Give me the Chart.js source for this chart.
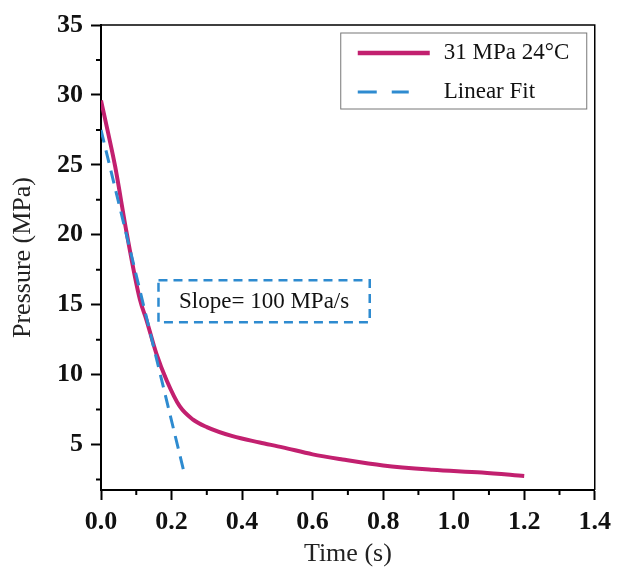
<!DOCTYPE html>
<html>
<head>
  <title>Pressure decay</title>
  <script src="https://cdn.jsdelivr.net/npm/chart.js"></script>
  <style>
    body { margin: 0; background: #fff; }
  </style>
</head>
<body>
  <canvas id="chart" width="618" height="570"></canvas>

  <script>
    const timeVals = [0, 0.02, 0.04, 0.073, 0.11, 0.129, 0.157, 0.186, 0.223, 0.26, 0.30, 0.373, 0.45, 0.515, 0.6, 0.685, 0.8, 0.94, 1.08, 1.2];
    const pressureVals = [29.6, 27.3, 24.9, 20.1, 15.4, 13.9, 11.5, 9.6, 7.74, 6.8, 6.25, 5.6, 5.15, 4.8, 4.3, 3.93, 3.5, 3.2, 3.0, 2.75];
    // linear fit
    const fitTime = [0, 0.238];
    const fitVals = [27.5, 2.75];

    const xTicks = [0, 0.2, 0.4, 0.6, 0.8, 1.0, 1.2, 1.4];
    const yTicks = [5, 10, 15, 20, 25, 30, 35];
    const xMinor = [0.1, 0.3, 0.5, 0.7, 0.9, 1.1, 1.3];
    const yMinor = [2.5, 7.5, 12.5, 17.5, 22.5, 27.5, 32.5];

    const seriesLabel = "31 MPa 24°C";
    const fitLabel = "Linear Fit";
    const slopeText = "Slope= 100 MPa/s";

    const RED = "#c2206f";
    const BLUE = "#2e8bd0";
    const SERIF = "'Liberation Serif', 'DejaVu Serif', serif";

    const toPts = (xs, ys) => xs.map((x, i) => ({ x: x, y: ys[i] }));

    // minor ticks, frame, legend and slope box
    const extras = {
      id: "extras",
      afterDraw(c) {
        const ctx = c.ctx;
        const a = c.chartArea;
        const xs = c.scales.x, ys = c.scales.y;
        ctx.save();
        ctx.strokeStyle = "#000";
        ctx.lineWidth = 2;
        ctx.beginPath();
        xMinor.forEach(v => {
          const px = xs.getPixelForValue(v);
          ctx.moveTo(px, a.bottom); ctx.lineTo(px, a.bottom + 5);
        });
        yMinor.forEach(v => {
          const py = ys.getPixelForValue(v);
          ctx.moveTo(a.left, py); ctx.lineTo(a.left - 5, py);
        });
        ctx.stroke();

        // top / right frame
        ctx.lineWidth = 1.5;
        ctx.beginPath();
        ctx.moveTo(a.left, a.top); ctx.lineTo(a.right, a.top); ctx.lineTo(a.right, a.bottom);
        ctx.stroke();

        // legend
        const lx = a.right - 254, ly = a.top + 8, lw = 246, lh = 76;
        ctx.strokeStyle = "#777";
        ctx.lineWidth = 1;
        ctx.strokeRect(lx, ly, lw, lh);
        ctx.lineWidth = 4.5;
        ctx.strokeStyle = RED;
        ctx.beginPath();
        ctx.moveTo(lx + 17, ly + 20); ctx.lineTo(lx + 89, ly + 20);
        ctx.stroke();
        ctx.lineWidth = 3;
        ctx.strokeStyle = BLUE;
        ctx.setLineDash([19, 15]);
        ctx.beginPath();
        ctx.moveTo(lx + 17, ly + 59); ctx.lineTo(lx + 68, ly + 59);
        ctx.stroke();
        ctx.setLineDash([]);
        ctx.fillStyle = "#111";
        ctx.font = "23px " + SERIF;
        ctx.textBaseline = "middle";
        ctx.textAlign = "left";
        ctx.fillText(seriesLabel, lx + 103, ly + 20);
        ctx.fillText(fitLabel, lx + 103, ly + 59);

        // slope annotation box
        const bx0 = xs.getPixelForValue(0.163), bx1 = xs.getPixelForValue(0.762);
        const by0 = ys.getPixelForValue(16.75), by1 = ys.getPixelForValue(13.75);
        ctx.strokeStyle = BLUE;
        ctx.lineWidth = 2.5;
        ctx.setLineDash([9, 6]);
        ctx.strokeRect(bx0, by0, bx1 - bx0, by1 - by0);
        ctx.setLineDash([]);
        ctx.font = "23px " + SERIF;
        ctx.textAlign = "center";
        ctx.fillText(slopeText, (bx0 + bx1) / 2, (by0 + by1) / 2 + 1);
        ctx.restore();
      }
    };

    const tickFont = { family: SERIF, size: 26, weight: "bold" };
    const titleFont = { family: SERIF, size: 26 };

    new Chart(document.getElementById("chart"), {
      type: "line",
      data: {
        datasets: [
          {
            label: fitLabel,
            data: toPts(fitTime, fitVals),
            borderColor: BLUE,
            borderWidth: 3,
            borderDash: [13, 8],
            pointRadius: 0,
            order: 0
          },
          {
            label: seriesLabel,
            data: toPts(timeVals, pressureVals),
            borderColor: RED,
            borderWidth: 4,
            pointRadius: 0,
            cubicInterpolationMode: "monotone",
            order: 1
          }
        ]
      },
      options: {
        responsive: false,
        animation: false,
        layout: { padding: { left: 0, top: 25, right: 20, bottom: 0 } },
        plugins: { legend: { display: false }, tooltip: { enabled: false } },
        scales: {
          x: {
            type: "linear",
            min: 0, max: 1.4,
            afterBuildTicks: s => { s.ticks = xTicks.map(v => ({ value: v })); },
            afterFit: s => { s.height = 80; },
            grid: { drawOnChartArea: false, tickLength: 10, tickColor: "#000", tickWidth: 2 },
            border: { color: "#000", width: 2 },
            ticks: {
              color: "#111", font: tickFont, padding: 7, maxRotation: 0,
              callback: v => v.toFixed(1)
            },
            title: { display: true, text: "Time (s)", color: "#222", font: titleFont, padding: { top: 0, bottom: 0 } }
          },
          y: {
            type: "linear",
            min: 1.75, max: 35,
            afterBuildTicks: s => { s.ticks = yTicks.map(v => ({ value: v })); },
            afterFit: s => { s.width = 101; },
            grid: { drawOnChartArea: false, tickLength: 10, tickColor: "#000", tickWidth: 2 },
            border: { color: "#000", width: 2 },
            ticks: { color: "#111", font: tickFont, padding: 8, callback: v => String(v) },
            title: { display: true, text: "Pressure (MPa)", color: "#222", font: titleFont, padding: { top: 8, bottom: 0 } }
          }
        }
      },
      plugins: [extras]
    });
  </script>
</body>
</html>
